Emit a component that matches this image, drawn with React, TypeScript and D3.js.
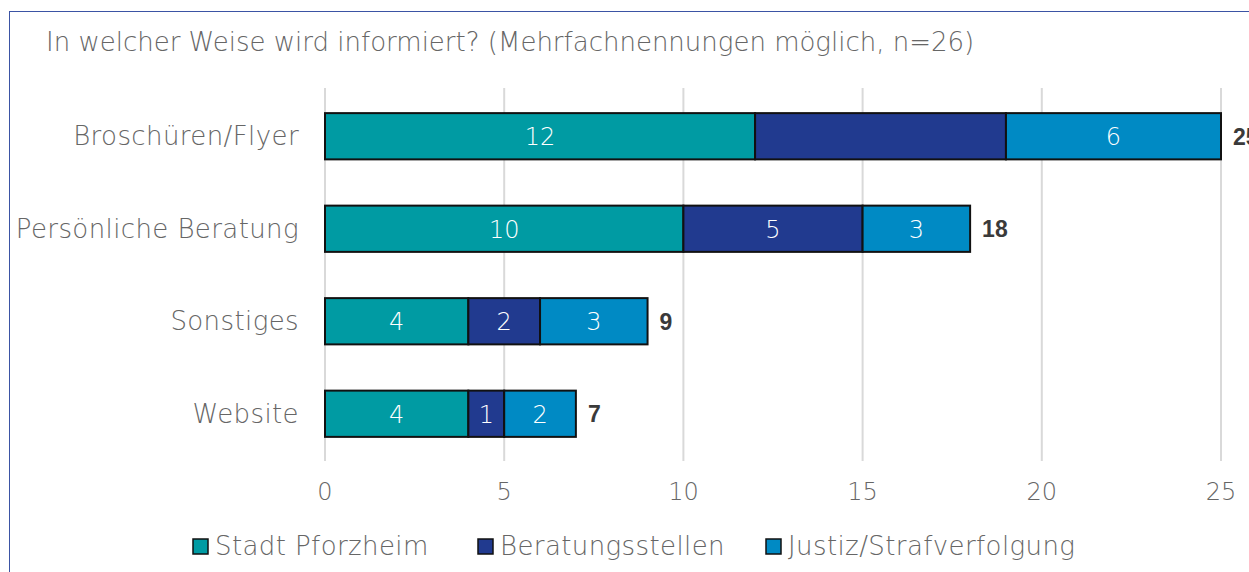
import React from "react";
import * as d3 from "d3";

const categories = ["Broschüren/Flyer", "Persönliche Beratung", "Sonstiges", "Website"];
const seriesNames = ["Stadt Pforzheim", "Beratungsstellen", "Justiz/Strafverfolgung"];
const stadt = [12, 10, 4, 4];
const beratung = [7, 5, 2, 1];
const justiz = [6, 3, 3, 2];
const totals = [25, 18, 9, 7];
// segment labels not printed in the reference: [seriesIndex, categoryIndex]
const hiddenLabels = [[1, 0]];
const xTicks = [0, 5, 10, 15, 20, 25];
const colors = ["#009ba3", "#213a8f", "#008ac4"];
const title = "In welcher Weise wird informiert? (Mehrfachnennungen möglich, n=26)";

export default function App() {
  const W = 1249, H = 572;
  const x = d3.scaleLinear().domain([0, 25]).range([325, 1221]);
  const y = d3.scaleBand().domain(categories).range([90, 460]).paddingInner(0.5).paddingOuter(0.25);
  const rows = categories.map((c, i) => ({ cat: c, stadt: stadt[i], beratung: beratung[i], justiz: justiz[i] }));
  const stack = d3.stack<any>().keys(["stadt", "beratung", "justiz"])(rows);
  const font = "'DejaVu Sans', sans-serif";
  const legendX = [193, 478, 766];
  const grey = "#666";
  const isHidden = (si: number, ci: number) => hiddenLabels.some(([a, b]) => a === si && b === ci);
  return (
    <svg width={W} height={H} style={{ position: "absolute", left: 0, top: 0, background: "#fff" }} fontFamily={font}>
      <rect x={9.5} y={11.5} width={W + 10} height={H + 10} fill="none" stroke="#3b53a4" strokeWidth={1} />
      <text x={46} y={51} fontSize={26} fill={grey} fontWeight={300}>{title}</text>
      {xTicks.map((t) => (
        <g key={t}>
          <line x1={x(t)} x2={x(t)} y1={88} y2={461} stroke="#d9d9d9" strokeWidth={2} />
          <text x={x(t)} y={500} fontSize={24} fill={grey} textAnchor="middle" fontWeight={300}>{t}</text>
        </g>
      ))}
      {categories.map((c) => (
        <text key={c} x={299} y={(y(c) as number) + y.bandwidth() / 2 + 9} fontSize={26} letterSpacing={0.4} fill={grey} textAnchor="end" fontWeight={300}>{c}</text>
      ))}
      {stack.map((s, si) => (
        <g key={si}>
          {s.map((d: any, i: number) => {
            const x0 = x(d[0]), x1 = x(d[1]);
            const yy = y(categories[i]) as number;
            return (
              <g key={i}>
                <rect x={x0} y={yy} width={x1 - x0} height={y.bandwidth()} fill={colors[si]} stroke="#111" strokeWidth={2} />
                {!isHidden(si, i) && (
                  <text x={(x0 + x1) / 2} y={yy + y.bandwidth() / 2 + 9} fontSize={24} fill="#fff" textAnchor="middle" fontWeight={300}>{d[1] - d[0]}</text>
                )}
              </g>
            );
          })}
        </g>
      ))}
      {categories.map((c, i) => (
        <text key={c} x={x(totals[i]) + 12} y={(y(c) as number) + y.bandwidth() / 2 + 8.5} fontSize={23} fontFamily="'Liberation Sans', Arial, sans-serif" fill="#3a3a3a" fontWeight={700}>{totals[i]}</text>
      ))}
      {seriesNames.map((n, i) => (
        <g key={n}>
          <rect x={legendX[i]} y={539} width={15} height={15} fill={colors[i]} stroke="#111" strokeWidth={1.5} />
          <text x={legendX[i] + 22} y={555} fontSize={26} letterSpacing={0.4} fill={grey} fontWeight={300}>{n}</text>
        </g>
      ))}
    </svg>
  );
}
